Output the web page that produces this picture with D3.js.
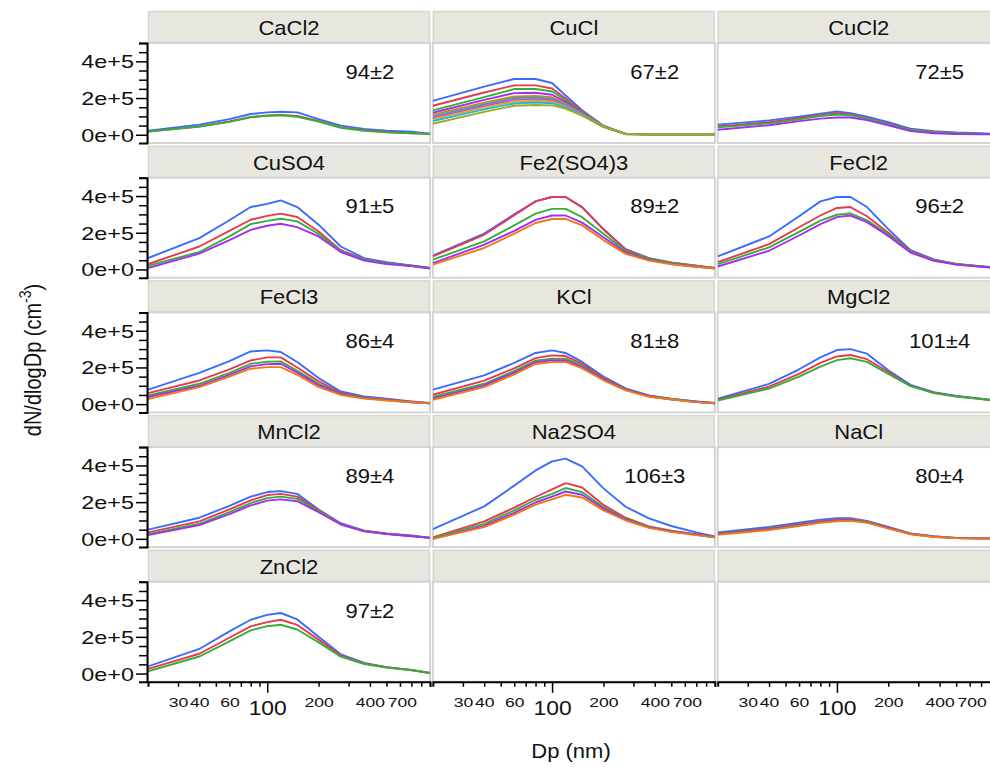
<!DOCTYPE html>
<html>
<head>
<meta charset="utf-8">
<script src="https://cdn.jsdelivr.net/npm/d3@7"></script>
<style>
  html, body { margin: 0; padding: 0; background: #fff; }
  svg { display: block; font-family: "Liberation Sans", Arial, sans-serif; }
</style>
</head>
<body>
<svg id="chart" width="990" height="767"></svg>
<script>
// ---------------- DATA ----------------
const dp = [20, 40, 60, 80, 100, 120, 150, 200, 270, 370, 500, 700, 900]; // nm
const salts = ["CaCl2", "CuCl", "CuCl2", "CuSO4", "Fe2(SO4)3", "FeCl2", "FeCl3", "KCl", "MgCl2", "MnCl2", "Na2SO4", "NaCl", "ZnCl2"];
const annotations = ["94±2", "67±2", "72±5", "91±5", "89±2", "96±2", "86±4", "81±8", "101±4", "89±4", "106±3", "80±4", "97±2"];
const seriesColors = ["#3a6bff", "#e8394d", "#33b03a", "#a52cf5", "#f07a12", "#23b3a6", "#e040d8", "#d9ae22", "#28b4e0", "#9aae1c"];
const xTickValues = [30, 40, 50, 60, 70, 80, 90, 100, 200, 300, 400, 500, 600, 700, 800, 900];
const xTickLabels = [30, 40, 60, 100, 200, 400, 700];
const yTickValues = [0, 0.5e5, 1e5, 1.5e5, 2e5, 2.5e5, 3e5, 3.5e5, 4e5, 4.5e5, 5e5];
const yTickLabels = { 0: "0e+0", 200000: "2e+5", 400000: "4e+5" };

// values in units of 1e5 cm^-3, one row per series, at the dp grid
const CaCl2 = [
  [0.22, 0.55, 0.85, 1.13, 1.22, 1.25, 1.22, 0.85, 0.50, 0.32, 0.22, 0.16, 0.05],
  [0.18, 0.45, 0.72, 0.97, 1.05, 1.08, 1.02, 0.75, 0.40, 0.25, 0.15, 0.08, 0.05],
  [0.18, 0.45, 0.70, 0.95, 1.03, 1.06, 0.98, 0.72, 0.38, 0.22, 0.13, 0.08, 0.05]
];
const CuCl = [
  [1.85, 2.62, 3.04, 3.04, 2.82, 2.14, 1.34, 0.49, 0.03, 0.02, 0.03, 0.02, 0.00],
  [1.58, 2.30, 2.69, 2.69, 2.52, 1.98, 1.28, 0.48, 0.05, 0.03, 0.02, 0.02, 0.00],
  [1.33, 2.05, 2.49, 2.49, 2.36, 1.88, 1.24, 0.47, 0.05, 0.03, 0.02, 0.02, 0.00],
  [1.20, 1.90, 2.27, 2.29, 2.18, 1.78, 1.20, 0.46, 0.05, 0.02, 0.02, 0.01, 0.00],
  [1.10, 1.75, 2.09, 2.12, 2.04, 1.70, 1.16, 0.45, 0.05, 0.02, 0.02, 0.01, 0.00],
  [1.00, 1.66, 2.00, 2.03, 1.96, 1.65, 1.14, 0.45, 0.05, 0.02, 0.02, 0.01, 0.00],
  [0.92, 1.57, 1.90, 1.94, 1.88, 1.60, 1.12, 0.44, 0.04, 0.02, 0.02, 0.01, 0.00],
  [0.85, 1.48, 1.80, 1.85, 1.80, 1.55, 1.10, 0.44, 0.04, 0.02, 0.01, 0.01, 0.00],
  [0.75, 1.38, 1.70, 1.76, 1.72, 1.50, 1.08, 0.43, 0.04, 0.02, 0.01, 0.01, 0.00],
  [0.60, 1.25, 1.58, 1.62, 1.60, 1.42, 1.04, 0.42, 0.04, 0.01, 0.01, 0.01, 0.00]
];
const CuCl2 = [
  [0.55, 0.78, 0.98, 1.15, 1.27, 1.18, 0.98, 0.68, 0.33, 0.20, 0.12, 0.08, 0.04],
  [0.45, 0.68, 0.90, 1.07, 1.17, 1.10, 0.90, 0.60, 0.28, 0.16, 0.09, 0.05, 0.03],
  [0.40, 0.62, 0.84, 1.02, 1.10, 1.06, 0.88, 0.58, 0.26, 0.14, 0.08, 0.05, 0.03],
  [0.27, 0.52, 0.74, 0.88, 0.94, 0.94, 0.80, 0.52, 0.20, 0.08, 0.04, 0.03, 0.03]
];
const CuSO4 = [
  [0.62, 1.71, 2.68, 3.40, 3.57, 3.76, 3.40, 2.44, 1.25, 0.62, 0.40, 0.22, 0.08],
  [0.29, 1.25, 2.10, 2.71, 2.92, 3.04, 2.86, 2.07, 1.05, 0.55, 0.35, 0.20, 0.08],
  [0.20, 0.95, 1.80, 2.47, 2.65, 2.76, 2.62, 1.93, 1.00, 0.52, 0.34, 0.20, 0.08],
  [0.08, 0.86, 1.60, 2.16, 2.38, 2.49, 2.31, 1.80, 0.95, 0.48, 0.30, 0.18, 0.05]
];
const Fe2SO43 = [
  [0.75, 1.95, 3.00, 3.72, 3.95, 3.95, 3.40, 2.20, 1.10, 0.62, 0.38, 0.20, 0.08],
  [0.71, 1.89, 2.95, 3.71, 3.95, 3.95, 3.38, 2.18, 1.08, 0.60, 0.37, 0.20, 0.08],
  [0.53, 1.53, 2.40, 3.04, 3.30, 3.30, 2.85, 1.95, 1.00, 0.58, 0.35, 0.18, 0.07],
  [0.35, 1.35, 2.10, 2.70, 2.94, 2.94, 2.55, 1.75, 0.92, 0.52, 0.30, 0.15, 0.06],
  [0.26, 1.17, 1.95, 2.53, 2.75, 2.75, 2.40, 1.60, 0.85, 0.48, 0.28, 0.14, 0.05]
];
const FeCl2 = [
  [0.71, 1.80, 2.90, 3.71, 3.95, 3.95, 3.40, 2.20, 1.05, 0.55, 0.30, 0.18, 0.10],
  [0.40, 1.38, 2.30, 2.94, 3.35, 3.40, 2.90, 2.00, 1.00, 0.52, 0.30, 0.17, 0.08],
  [0.29, 1.20, 2.05, 2.66, 2.98, 3.05, 2.68, 1.90, 0.97, 0.50, 0.28, 0.16, 0.07],
  [0.16, 1.02, 1.85, 2.47, 2.85, 2.94, 2.58, 1.82, 0.92, 0.47, 0.26, 0.14, 0.06]
];
const FeCl3 = [
  [0.79, 1.70, 2.35, 2.87, 2.93, 2.84, 2.30, 1.42, 0.69, 0.42, 0.30, 0.15, 0.06],
  [0.60, 1.29, 1.90, 2.38, 2.55, 2.55, 2.00, 1.24, 0.62, 0.37, 0.25, 0.12, 0.05],
  [0.47, 1.11, 1.70, 2.20, 2.31, 2.33, 1.82, 1.11, 0.58, 0.35, 0.23, 0.11, 0.05],
  [0.39, 1.00, 1.60, 2.06, 2.18, 2.20, 1.72, 1.04, 0.55, 0.33, 0.22, 0.10, 0.05],
  [0.28, 0.93, 1.50, 1.93, 2.02, 2.02, 1.60, 0.93, 0.50, 0.30, 0.20, 0.10, 0.04]
];
const KCl = [
  [0.79, 1.57, 2.25, 2.79, 2.93, 2.79, 2.30, 1.50, 0.86, 0.47, 0.30, 0.15, 0.06],
  [0.51, 1.28, 1.95, 2.51, 2.66, 2.62, 2.20, 1.45, 0.82, 0.45, 0.28, 0.14, 0.05],
  [0.39, 1.11, 1.80, 2.37, 2.48, 2.48, 2.10, 1.40, 0.80, 0.44, 0.27, 0.13, 0.05],
  [0.30, 1.02, 1.72, 2.28, 2.39, 2.39, 2.02, 1.36, 0.78, 0.42, 0.26, 0.12, 0.05],
  [0.24, 0.93, 1.62, 2.19, 2.30, 2.30, 1.95, 1.30, 0.75, 0.40, 0.25, 0.11, 0.04]
];
const MgCl2 = [
  [0.30, 1.10, 1.90, 2.55, 2.95, 3.00, 2.75, 1.85, 1.05, 0.65, 0.45, 0.30, 0.18],
  [0.25, 0.95, 1.65, 2.25, 2.60, 2.68, 2.45, 1.75, 1.00, 0.62, 0.43, 0.28, 0.17],
  [0.20, 0.85, 1.50, 2.05, 2.40, 2.50, 2.30, 1.65, 0.98, 0.60, 0.42, 0.28, 0.17]
];
const MnCl2 = [
  [0.50, 1.15, 1.80, 2.30, 2.55, 2.60, 2.45, 1.60, 0.85, 0.45, 0.30, 0.18, 0.06],
  [0.35, 0.95, 1.60, 2.10, 2.38, 2.45, 2.30, 1.55, 0.82, 0.44, 0.28, 0.16, 0.05],
  [0.25, 0.82, 1.45, 1.95, 2.22, 2.30, 2.18, 1.50, 0.80, 0.42, 0.27, 0.15, 0.05],
  [0.20, 0.75, 1.35, 1.82, 2.08, 2.15, 2.05, 1.45, 0.78, 0.41, 0.26, 0.14, 0.05]
];
const Na2SO4 = [
  [0.53, 1.77, 2.90, 3.73, 4.22, 4.37, 3.95, 2.75, 1.75, 1.12, 0.70, 0.35, 0.13],
  [0.08, 0.95, 1.70, 2.28, 2.69, 3.04, 2.80, 1.85, 1.15, 0.68, 0.45, 0.25, 0.10],
  [0.05, 0.82, 1.55, 2.13, 2.45, 2.77, 2.55, 1.72, 1.10, 0.65, 0.42, 0.23, 0.09],
  [0.00, 0.71, 1.42, 1.98, 2.30, 2.58, 2.40, 1.65, 1.05, 0.62, 0.40, 0.22, 0.08],
  [0.00, 0.64, 1.32, 1.86, 2.15, 2.40, 2.25, 1.55, 1.00, 0.60, 0.38, 0.20, 0.08]
];
const NaCl = [
  [0.35, 0.65, 0.88, 1.05, 1.12, 1.12, 0.98, 0.65, 0.30, 0.15, 0.05, 0.03, 0.02],
  [0.30, 0.58, 0.80, 0.98, 1.06, 1.08, 0.95, 0.62, 0.28, 0.13, 0.05, 0.03, 0.02],
  [0.28, 0.55, 0.77, 0.95, 1.03, 1.05, 0.93, 0.60, 0.27, 0.12, 0.04, 0.03, 0.02],
  [0.26, 0.52, 0.74, 0.92, 1.00, 1.02, 0.90, 0.58, 0.26, 0.11, 0.04, 0.03, 0.02],
  [0.22, 0.48, 0.70, 0.88, 0.96, 0.98, 0.88, 0.56, 0.25, 0.10, 0.04, 0.02, 0.02]
];
const ZnCl2 = [
  [0.39, 1.34, 2.30, 2.93, 3.20, 3.30, 2.95, 2.00, 1.05, 0.58, 0.35, 0.20, 0.03],
  [0.25, 1.08, 1.95, 2.57, 2.80, 2.93, 2.65, 1.85, 0.98, 0.55, 0.34, 0.19, 0.03],
  [0.12, 0.93, 1.75, 2.35, 2.58, 2.66, 2.40, 1.70, 0.92, 0.52, 0.33, 0.18, 0.03]
];
const panelSeries = [CaCl2, CuCl, CuCl2, CuSO4, Fe2SO43, FeCl2, FeCl3, KCl, MgCl2, MnCl2, Na2SO4, NaCl, ZnCl2];

// ---------------- LAYOUT ----------------
const nCols = 3, nRows = 5;
const left0 = 148, colPitch = 284.85, panelW = 282;
const top0 = 11, rowPitch = 134.7, stripH = 32, plotH = 100;
const svg = d3.select("#chart");
svg.append("rect").attr("width", 990).attr("height", 767).attr("fill", "#fff");

const x = d3.scaleLog().domain([20, 900]).range([0, panelW]);
const y = d3.scaleLinear().domain([-0.45e5, 5e5]).range([plotH, 0]);
const line = d3.line().x(d => x(d[0])).y(d => y(d[1] * 1e5));

svg.append("defs").append("clipPath").attr("id", "clip")
  .append("rect").attr("x", 0).attr("y", 0).attr("width", panelW).attr("height", plotH);

for (let r = 0; r < nRows; r++) {
  for (let c = 0; c < nCols; c++) {
    const i = r * nCols + c;
    const gx = left0 + c * colPitch, gy = top0 + r * rowPitch;
    const cell = svg.append("g").attr("transform", `translate(${gx},${gy})`);
    // strip
    cell.append("rect").attr("x", 0.5).attr("y", 0.5).attr("width", panelW - 1).attr("height", stripH - 1)
      .attr("fill", "#e8e7df").attr("stroke", "#d7d6ce").attr("stroke-width", 1.5);
    // plot frame
    const plot = cell.append("g").attr("transform", `translate(0,${stripH})`);
    plot.append("rect").attr("x", 0).attr("y", 0).attr("width", panelW).attr("height", plotH)
      .attr("fill", "#fff").attr("stroke", "#d4d4d4").attr("stroke-width", 2);
    if (i < salts.length) {
      cell.append("text").attr("transform", `translate(${panelW / 2},${stripH - 8}) scale(1.1,1)`)
        .attr("text-anchor", "middle").attr("font-size", 20).attr("fill", "#111").text(salts[i]);
      const lines = plot.append("g").attr("clip-path", "url(#clip)");
      panelSeries[i].forEach((vals, k) => {
        lines.append("path").datum(dp.map((d, j) => [d, vals[j]]))
          .attr("d", line).attr("fill", "none").attr("stroke", seriesColors[k])
          .attr("stroke-width", 1.9).attr("stroke-linejoin", "round");
      });
      plot.append("text").attr("transform", `translate(${x(400)},${y(3.05e5)}) scale(1.05,1)`)
        .attr("text-anchor", "middle").attr("font-size", 21).attr("fill", "#111").text(annotations[i]);
    }
    // y axis on first column
    if (c === 0) {
      const ya = plot.append("g").attr("transform", "translate(-1,0)")
        .call(d3.axisLeft(y).tickValues(yTickValues).tickSizeOuter(0).tickSize(8)
          .tickFormat(d => yTickLabels[d] || ""));
      ya.select(".domain").attr("stroke", "#000").attr("stroke-width", 2);
      ya.selectAll(".tick line").attr("stroke", "#000").attr("stroke-width", 1.5)
        .attr("x2", d => yTickLabels[d] ? -11 : -8);
      ya.selectAll(".tick text").attr("font-size", 18).attr("font-family", "Liberation Sans, Arial, sans-serif")
        .attr("fill", "#111").attr("x", -10).attr("dy", "0.36em").attr("transform", "scale(1.3,1)");
    }
    // x axis on bottom row
    if (r === nRows - 1) {
      const xa = plot.append("g").attr("transform", `translate(0,${plotH})`)
        .call(d3.axisBottom(x).tickValues(xTickValues).tickSizeOuter(0).tickSize(5)
          .tickFormat(d => xTickLabels.includes(d) ? String(d) : ""));
      xa.select(".domain").attr("stroke", "#000").attr("stroke-width", 2);
      xa.selectAll(".tick line").attr("stroke", "#000").attr("stroke-width", 1.5)
        .attr("y2", d => d === 100 ? 11 : 5);
      xa.selectAll(".tick text").attr("font-family", "Liberation Sans, Arial, sans-serif").attr("fill", "#111")
        .attr("dy", 0)
        .attr("font-size", d => d === 100 ? 21 : 13)
        .attr("y", d => d === 100 ? 33 : 25.5)
        .attr("x", d => d === 700 ? -7 : 0)
        .attr("transform", d => d === 100 ? "scale(1.09,1)" : "scale(1.35,1)");
    }
  }
}

// axis titles
const yt = svg.append("text").attr("transform", "translate(41,360) rotate(-90) scale(1,1.2)")
  .attr("text-anchor", "middle").attr("font-size", 20).attr("fill", "#111");
yt.append("tspan").text("dN/dlogDp (cm");
yt.append("tspan").attr("font-size", 14).attr("dy", -8).text("-3");
yt.append("tspan").attr("dy", 8).text(")");

svg.append("text").attr("transform", "translate(571,758) scale(1.1,1)")
  .attr("text-anchor", "middle").attr("font-size", 20).attr("fill", "#111").text("Dp (nm)");
</script>
</body>
</html>
